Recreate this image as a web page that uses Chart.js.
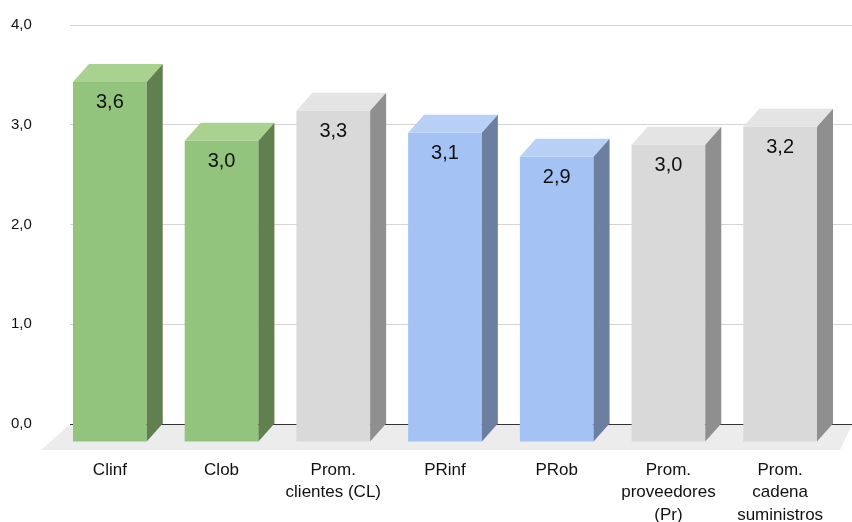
<!DOCTYPE html>
<html>
<head>
<meta charset="utf-8">
<script src="https://cdn.jsdelivr.net/npm/chart.js@4.4.1/dist/chart.umd.min.js"></script>
<style>
  html, body { margin: 0; padding: 0; background: #fff; }
  #wrap { width: 852px; height: 522px; position: relative; }
</style>
</head>
<body>
<div id="wrap"><canvas id="chart"></canvas></div>
<script>
// categorías y valores
const categories = [
    ['Clinf'],
    ['Clob'],
    ['Prom.', 'clientes (CL)'],
    ['PRinf'],
    ['PRob'],
    ['Prom.', 'proveedores', '(Pr)'],
    ['Prom.', 'cadena', 'suministros']
];
const values = [3.61, 3.02, 3.32, 3.10, 2.86, 2.98, 3.16];
const yTicks = [0, 1, 2, 3, 4];

// colores: cara frontal, superior, lateral
const frontColors = ['#93c47d', '#93c47d', '#d9d9d9', '#a4c2f4', '#a4c2f4', '#d9d9d9', '#d9d9d9'];
const topColors   = ['#a9d18f', '#a9d18f', '#e4e4e4', '#b8cff6', '#b8cff6', '#e4e4e4', '#e4e4e4'];
const sideColors  = ['#60804f', '#60804f', '#8f8f8f', '#6c7fa0', '#6c7fa0', '#8f8f8f', '#8f8f8f'];

// desplazamiento de la profundidad 3D
const DX = 16, DY = 18;

function fmt(v) {
    return v.toFixed(1).replace('.', ',');
}

const bars3d = {
    id: 'bars3d',
    beforeDatasetsDraw(chart) {
        const ctx = chart.ctx;
        const area = chart.chartArea;
        // suelo gris
        ctx.save();
        ctx.fillStyle = '#ececec';
        ctx.beginPath();
        ctx.moveTo(area.left - 1, area.bottom + 1);
        ctx.lineTo(area.right, area.bottom + 1);
        ctx.lineTo(area.right - 12, area.bottom + 26);
        ctx.lineTo(area.left - 29, area.bottom + 26);
        ctx.closePath();
        ctx.fill();
        ctx.restore();
    },
    beforeDatasetDraw(chart) {
        chart.ctx.save();
        chart.ctx.translate(-DX, DY);
    },
    afterDatasetDraw(chart) {
        chart.ctx.restore();
    },
    afterDatasetsDraw(chart) {
        const ctx = chart.ctx;
        const meta = chart.getDatasetMeta(0);
        ctx.save();
        meta.data.forEach(function(bar, i) {
            const p = bar.getProps(['x', 'y', 'base', 'width'], true);
            const left = p.x - p.width / 2 - DX;
            const right = p.x + p.width / 2 - DX;
            const top = p.y + DY;
            const bottom = p.base + DY;

            // cara superior
            ctx.fillStyle = topColors[i];
            ctx.beginPath();
            ctx.moveTo(left, top);
            ctx.lineTo(left + DX, top - DY);
            ctx.lineTo(right + DX, top - DY);
            ctx.lineTo(right, top);
            ctx.closePath();
            ctx.fill();

            // cara lateral
            ctx.fillStyle = sideColors[i];
            ctx.beginPath();
            ctx.moveTo(right, top);
            ctx.lineTo(right + DX, top - DY);
            ctx.lineTo(right + DX, bottom - DY);
            ctx.lineTo(right, bottom);
            ctx.closePath();
            ctx.fill();

            // etiqueta de valor
            ctx.fillStyle = '#111';
            ctx.font = '20px "Liberation Sans", Arial, sans-serif';
            ctx.textAlign = 'center';
            ctx.textBaseline = 'middle';
            ctx.fillText(fmt(values[i]), (left + right) / 2, top + 21);

            // etiqueta de categoría
            ctx.font = '17px "Liberation Sans", Arial, sans-serif';
            const cx = chart.scales.x.getPixelForValue(i) - DX;
            categories[i].forEach(function(line, k) {
                ctx.fillText(line, cx, 470 + k * 22.5);
            });
        });
        ctx.restore();
    }
};

const ctx = document.getElementById('chart').getContext('2d');
new Chart(ctx, {
    type: 'bar',
    data: {
        labels: categories,
        datasets: [{
            data: values,
            backgroundColor: frontColors,
            borderWidth: 0,
            barPercentage: 0.66,
            categoryPercentage: 1,
            clip: false
        }]
    },
    options: {
        responsive: true,
        maintainAspectRatio: false,
        animation: false,
        layout: {
            padding: { left: 11, top: 25, right: 0, bottom: 0 }
        },
        plugins: {
            legend: { display: false },
            tooltip: { enabled: false }
        },
        scales: {
            x: {
                grid: { display: false },
                border: { display: false },
                ticks: { display: false },
                afterFit: function(scale) { scale.height = 98; }
            },
            y: {
                min: yTicks[0],
                max: yTicks[yTicks.length - 1],
                afterBuildTicks: function(scale) {
                    scale.ticks = yTicks.map(v => ({ value: v }));
                },
                afterFit: function(scale) { scale.width = 59; },
                border: { display: false },
                grid: {
                    drawTicks: false,
                    lineWidth: 1,
                    color: function(c) {
                        return c.tick && c.tick.value === 0 ? '#333333' : '#d4d4d4';
                    }
                },
                ticks: {
                    crossAlign: 'far',
                    color: '#111',
                    font: { family: '"Liberation Sans", Arial, sans-serif', size: 15 },
                    callback: function(v) { return fmt(v); }
                }
            }
        }
    },
    plugins: [bars3d]
});
</script>
</body>
</html>
